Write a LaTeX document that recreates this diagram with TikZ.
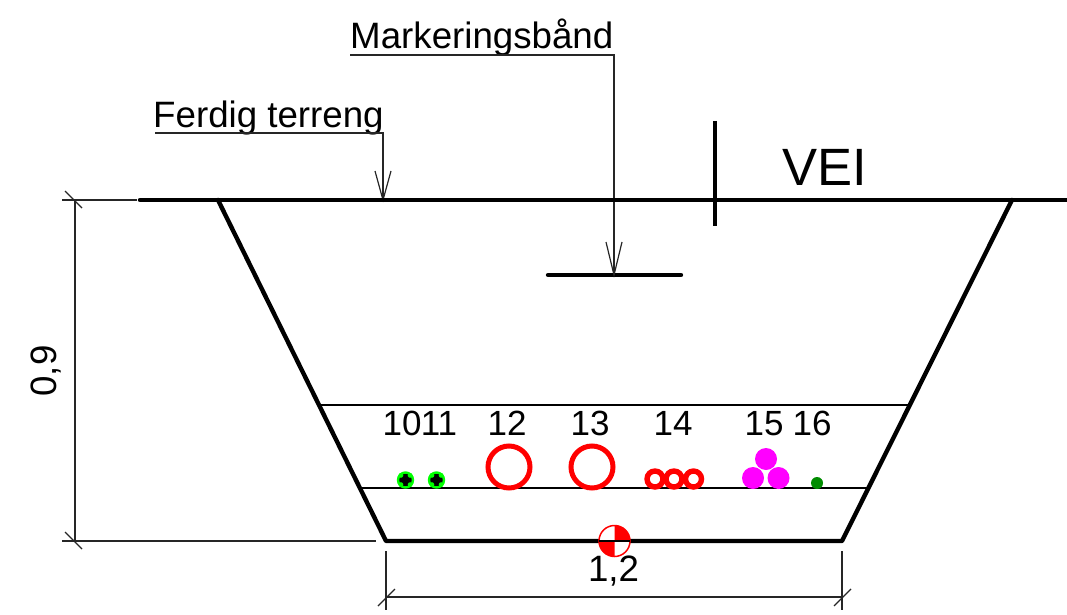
\documentclass[tikz,border=0pt]{standalone}
\usepackage{fontspec}
\setmainfont{Liberation Sans}
\usepackage{tikz}
\definecolor{pipemag}{RGB}{255,0,255}
\definecolor{pipegreen}{RGB}{0,255,0}
\definecolor{pipedark}{RGB}{0,140,0}
\tikzset{
 x=1pt,y=-1pt,
 thick line/.style={line width=4.4pt,black,line cap=round,line join=round},
 thin line/.style={line width=1.3pt,black},
 dim line/.style={line width=1.2pt,black!85},
 lbl/.style={inner sep=0pt,font=\fontsize{36.7}{37}\selectfont,text=black},
 num/.style={inner sep=0pt,font=\fontsize{35}{35}\selectfont,text=black},
 redring/.style={circle,draw=red,fill=white,line width=5pt,inner sep=0pt},
 smallring/.style={circle,draw=red,fill=white,line width=5.4pt,inner sep=0pt,minimum size=16pt},
 greenpipe/.style={circle,draw=pipegreen,fill=black,line width=2.4pt,inner sep=0pt,minimum size=15pt},
 magpipe/.style={circle,fill=pipemag,inner sep=0pt,minimum size=22pt},
}
\begin{document}
\begin{tikzpicture}
\useasboundingbox (0,0) rectangle (1067,615);
% coordinates
\coordinate (gl) at (140,200);
\coordinate (gr) at (1067,200);
\coordinate (tl) at (218,200);
\coordinate (tr) at (1012,200);
\coordinate (bl) at (386,541);
\coordinate (br) at (842,541);
% horizontal layers
\coordinate (l1a) at (319,405); \coordinate (l1b) at (909,405);
\coordinate (l2a) at (360,488); \coordinate (l2b) at (867,488);
\draw[thin line] (l1a) -- (l1b);
\draw[thin line] (l2a) -- (l2b);
% road mark
\coordinate (va) at (715,121); \coordinate (vb) at (715,226);
\draw[line width=3.6pt] (va) -- (vb);
\node[inner sep=0pt,font=\fontsize{52.5}{52}\selectfont,anchor=base west] (vei) at (782,185) {VEI};
% marking tape
\coordinate (ma) at (548,275); \coordinate (mb) at (681,275);
\draw[thick line] (ma) -- (mb);
\node[lbl,anchor=base west] (mtxt) at (350,49) {Markeringsbånd};
\coordinate (mk) at (350,55); \coordinate (mk2) at (614,55); \coordinate (mtip) at (614,275);
\draw[dim line] (mk) -- (mk2) -- (mtip);
\draw[dim line] (606,242) -- (mtip) -- (622,242);
% finished terrain
\node[lbl,anchor=base west] (ftxt) at (153,127.5) {Ferdig terreng};
\coordinate (fk) at (155,133); \coordinate (fk2) at (383,133); \coordinate (ftip) at (383,200);
\draw[dim line] (fk) -- (fk2) -- (ftip);
\draw[dim line] (375,171) -- (ftip) -- (391,171);
% terrain and trench
\draw[thick line] (gl) -- (gr);
\draw[thick line] (tl) -- (bl) -- (br) -- (tr);
% vertical dimension
\coordinate (d1) at (75,200); \coordinate (d2) at (75,541);
\draw[dim line] (62,200) -- (137,200);
\draw[dim line] (62,541) -- (376,541);
\draw[dim line] (d1) -- (d2);
\draw[dim line] (65,191) -- (82,208);
\draw[dim line] (65,532) -- (82,549);
\node[lbl,rotate=90,anchor=base] (h) at (56,371) {0,9};
% horizontal dimension
\coordinate (d3) at (386,597); \coordinate (d4) at (842,597);
\draw[dim line] (386,551) -- (386,610);
\draw[dim line] (842,551) -- (842,610);
\draw[dim line] (d3) -- (d4);
\draw[dim line] (378,606) -- (395,589);
\draw[dim line] (834,606) -- (851,589);
\node[lbl,anchor=base] (w) at (613.5,581) {1,2};
% numbers
\node[num,anchor=base] at (402,435) {10};
\node[num,anchor=base] at (439,435) {11};
\node[num,anchor=base] at (507,435) {12};
\node[num,anchor=base] at (590,435) {13};
\node[num,anchor=base] at (673,435) {14};
\node[num,anchor=base] at (764,435) {15};
\node[num,anchor=base] at (812,435) {16};
% pipes
\node[greenpipe] (p10) at (405.5,480) {};
\node[greenpipe] (p11) at (436.5,480) {};
\foreach \x/\y in {405.5/480,436.5/480}{
 \fill[pipegreen] (\x-4.6,\y-4.6) circle (2.4pt);
 \fill[pipegreen] (\x+4.6,\y-4.6) circle (2.4pt);
 \fill[pipegreen] (\x-4.6,\y+4.6) circle (2.4pt);
 \fill[pipegreen] (\x+4.6,\y+4.6) circle (2.4pt);
}
\node[redring,minimum size=42pt] (p12) at (509,467) {};
\node[redring,minimum size=42pt] (p13) at (592,467) {};
\node[smallring] (p14a) at (655,479) {};
\node[smallring] (p14b) at (674,479) {};
\node[smallring] (p14c) at (693.5,479) {};
\node[magpipe] (p15a) at (766,459) {};
\node[magpipe] (p15b) at (753,478) {};
\node[magpipe] (p15c) at (778.5,478) {};
\node[circle,fill=pipedark,inner sep=0pt,minimum size=12pt] (p16) at (817,483) {};
% fibre symbol
\coordinate (c) at (614.5,541);
\fill[white] (c) circle (15.5pt);
\fill[red] (c) -- (614.5,525.5) arc[start angle=90,end angle=0,radius=15.5pt] -- cycle;
\fill[red] (c) -- (599,541) arc[start angle=180,end angle=270,radius=15.5pt] -- cycle;
\draw[red,line width=1.5pt] (c) circle (15.5pt);
\draw[line width=1.4pt] (599,541) -- (630,541);
\draw[line width=2.6pt] (599,541) -- (614,541);
\end{tikzpicture}
\end{document}
